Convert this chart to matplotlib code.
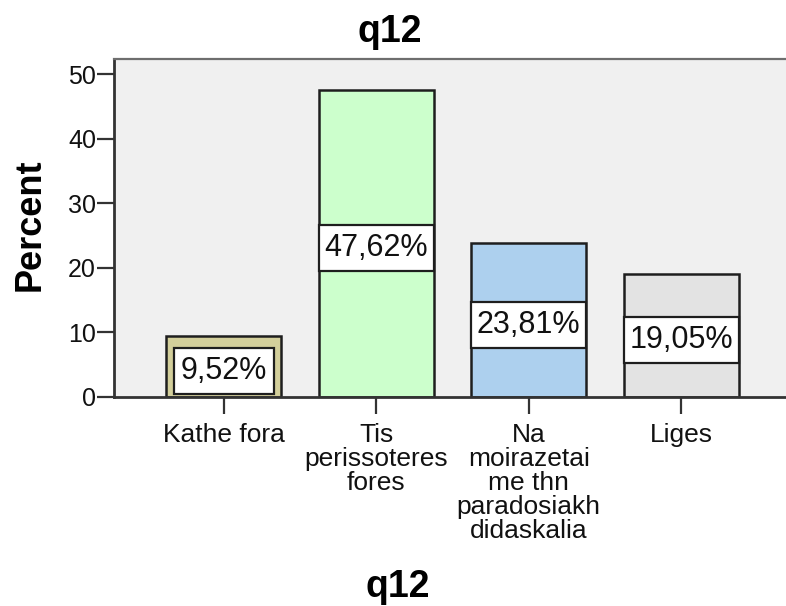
import matplotlib
matplotlib.use("Agg")
import matplotlib.pyplot as plt
from matplotlib.patches import Rectangle
from matplotlib.ticker import FixedLocator

plt.rcParams['font.family'] = ['Liberation Sans', 'DejaVu Sans']

# Response categories for item q12 and their percentages
categories = [
    "Kathe fora",
    "Tis\nperissoteres\nfores",
    "Na\nmoirazetai\nme thn\nparadosiakh\ndidaskalia",
    "Liges",
]
percents = [9.52, 47.62, 23.81, 19.05]
value_labels = ["9,52%", "47,62%", "23,81%", "19,05%"]
bar_colors = ["#d3cf9b", "#ccffcc", "#add0ee", "#e3e3e3"]
y_ticks = [0, 10, 20, 30, 40, 50]

BAR_W = 0.755

fig = plt.figure(figsize=(7.86, 6.06), dpi=100)
fig.patch.set_facecolor("white")

# The plot frame runs slightly past the right edge of the canvas
ax = fig.add_axes([114 / 786, 1 - 397 / 606, 677 / 786, (397 - 59) / 606])
ax.set_facecolor("#f0f0f0")

x = list(range(len(categories)))
ax.bar(x, percents, width=BAR_W, color=bar_colors, edgecolor="#1e1e1e",
       linewidth=1.8, zorder=2)

ax.set_xlim(-0.722, 3.722)
ax.set_ylim(0, 52.4)
ax.yaxis.set_major_locator(FixedLocator(y_ticks))
ax.set_xticks(x)
ax.set_xticklabels(categories, fontsize=19, linespacing=1.0, color="#111111")
ax.tick_params(axis="y", labelsize=18, length=12, width=1.6, pad=1,
               colors="#333333", labelcolor="#111111")
ax.tick_params(axis="x", length=12, width=1.6, pad=7, colors="#333333",
               labelcolor="#111111")

for side in ("left", "bottom"):
    ax.spines[side].set_color("#333333")
    ax.spines[side].set_linewidth(2.0)
ax.spines["top"].set_color("#6e6e6e")
ax.spines["top"].set_linewidth(1.6)
ax.spines["right"].set_visible(False)

# Value labels in white boxes, box width capped at the bar width
texts = []
for xi, v, lab in zip(x, percents, value_labels):
    t = ax.text(xi, v / 2 - 0.7, lab, ha="center", va="center", fontsize=22,
                color="#111111", zorder=5)
    texts.append(t)

fig.canvas.draw()
renderer = fig.canvas.get_renderer()
to_data = ax.transData.inverted()
hpad, vpad = 7, 8
for t, xi, v in zip(texts, x, percents):
    bb = t.get_window_extent(renderer)
    cx, cy = ax.transData.transform((xi, v / 2 - 0.7))
    x0d, y0d = to_data.transform((cx - bb.width / 2 - hpad, cy - bb.height / 2 - vpad))
    x1d, y1d = to_data.transform((cx + bb.width / 2 + hpad, cy + bb.height / 2 + vpad))
    x0d = max(x0d, xi - BAR_W / 2)
    x1d = min(x1d, xi + BAR_W / 2)
    y0d = max(y0d, 0)
    ax.add_patch(Rectangle((x0d, y0d), x1d - x0d, y1d - y0d, fc="white",
                           ec="#1e1e1e", lw=1.6, zorder=4))

fig.text(390 / 786, 1 - 32 / 606, "q12", ha="center", va="center",
         fontsize=27, fontweight="bold")
fig.text(398 / 786, 1 - 587 / 606, "q12", ha="center", va="center",
         fontsize=27, fontweight="bold")
fig.text(30 / 786, 1 - 225 / 606, "Percent", ha="center", va="center",
         rotation=90, fontsize=26, fontweight="bold")

fig.savefig("out.png", dpi=100)
